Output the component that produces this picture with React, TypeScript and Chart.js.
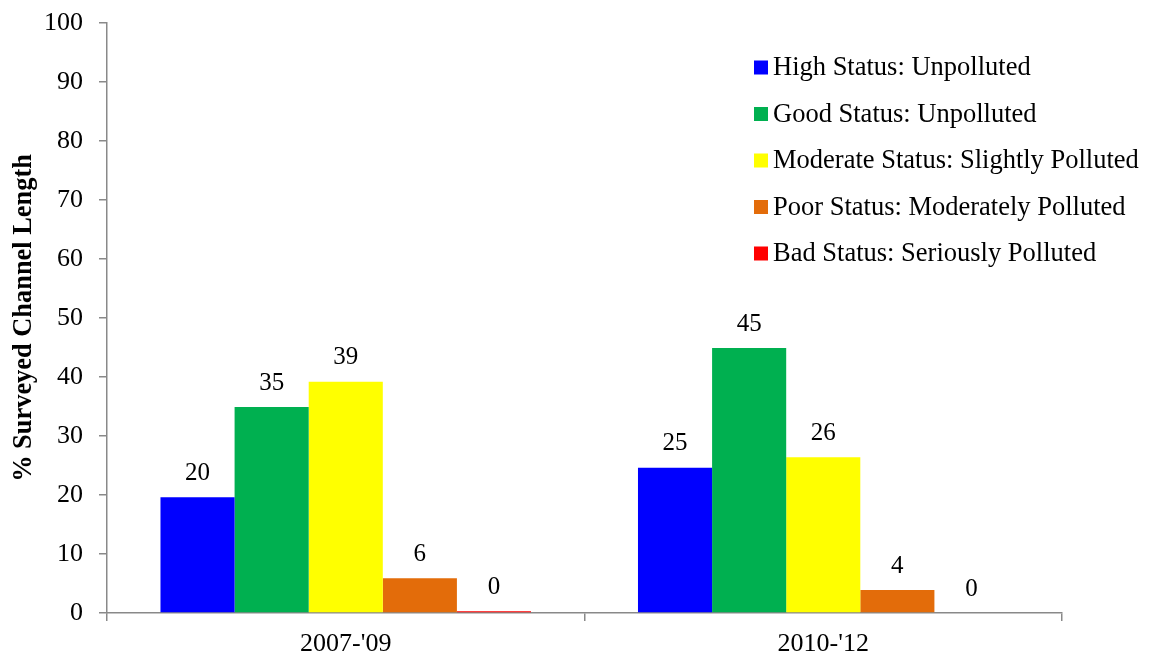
import React, { useEffect, useRef } from "react";
import { Chart, registerables } from "chart.js";

Chart.register(...registerables);

const categories = ["2007-'09", "2010-'12"];
const seriesNames = [
  "High Status: Unpolluted",
  "Good Status: Unpolluted",
  "Moderate Status: Slightly Polluted",
  "Poor Status: Moderately Polluted",
  "Bad Status: Seriously Polluted",
];
const highValues = [19.6, 24.6];
const goodValues = [34.9, 44.9];
const moderateValues = [39.2, 26.4];
const poorValues = [5.9, 3.9];
const badValues = [0.3, 0];
const seriesColors = ["#0000FF", "#00B050", "#FFFF00", "#E36C0A", "#FF0000"];
const yTicks = [0, 10, 20, 30, 40, 50, 60, 70, 80, 90, 100];

const FONT = '"Liberation Serif", "Times New Roman", serif';

const valueLabels = {
  id: "valueLabels",
  afterDatasetsDraw(chart: any) {
    const ctx = chart.ctx;
    ctx.save();
    ctx.font = `25px ${FONT}`;
    ctx.fillStyle = "#000";
    ctx.textAlign = "center";
    ctx.textBaseline = "middle";
    chart.data.datasets.forEach((ds: any, di: number) => {
      const meta = chart.getDatasetMeta(di);
      meta.data.forEach((el: any, i: number) => {
        const v = ds.data[i];
        ctx.fillText(String(Math.round(v)), el.x, el.y - 24);
      });
    });
    ctx.restore();
  },
};

const boxLegend = {
  id: "boxLegend",
  afterDraw(chart: any) {
    const ctx = chart.ctx;
    ctx.save();
    ctx.font = `26.5px ${FONT}`;
    ctx.textAlign = "left";
    ctx.textBaseline = "middle";
    chart.data.datasets.forEach((ds: any, i: number) => {
      const cy = 67.5 + i * 46.5;
      ctx.fillStyle = ds.backgroundColor;
      ctx.fillRect(754, cy - 7, 14, 14);
      ctx.fillStyle = "#000";
      ctx.fillText(ds.label, 773, cy + 1);
    });
    ctx.restore();
  },
};

export default function App() {
  const ref = useRef<HTMLCanvasElement>(null);
  useEffect(() => {
    const values = [highValues, goodValues, moderateValues, poorValues, badValues];
    const chart = new Chart(ref.current as HTMLCanvasElement, {
      type: "bar",
      data: {
        labels: categories,
        datasets: seriesNames.map((name, i) => ({
          label: name,
          data: values[i],
          backgroundColor: seriesColors[i],
          borderWidth: 0,
          barPercentage: 1,
          categoryPercentage: 0.776,
        })),
      },
      options: {
        responsive: false,
        animation: false,
        layout: { padding: { top: 23, right: 89, left: 0, bottom: 0 } },
        plugins: {
          legend: { display: false },
          tooltip: { enabled: false },
          title: { display: false },
        },
        scales: {
          x: {
            grid: {
              offset: true,
              drawOnChartArea: false,
              drawTicks: true,
              tickLength: 8,
              color: "#898989",
              lineWidth: 1.5,
            },
            border: { color: "#898989", width: 1.5 },
            ticks: {
              color: "#000",
              font: { family: FONT, size: 26 },
              padding: 8,
            },
            afterFit: (scale: any) => {
              scale.height = 46;
              scale.paddingLeft = 0;
              scale.paddingRight = 0;
            },
          },
          y: {
            min: 0,
            max: 100,
            afterBuildTicks: (scale: any) => {
              scale.ticks = yTicks.map((v) => ({ value: v }));
            },
            grid: {
              drawOnChartArea: false,
              drawTicks: true,
              tickLength: 8,
              color: "#898989",
              lineWidth: 1.5,
            },
            border: { color: "#898989", width: 1.5 },
            ticks: {
              color: "#000",
              font: { family: FONT, size: 26 },
              padding: 16,
            },
            title: {
              display: true,
              text: "% Surveyed Channel Length",
              color: "#000",
              font: { family: FONT, size: 26.4, weight: "bold" },
              padding: { top: 8, bottom: 0 },
            },
            afterFit: (scale: any) => {
              scale.width = 107;
              scale.paddingTop = 0;
              scale.paddingBottom = 0;
            },
          },
        },
      },
      plugins: [valueLabels, boxLegend],
    });
    return () => chart.destroy();
  }, []);
  return (
    <div style={{ position: "absolute", left: 0, top: 0, width: 1151, height: 659, background: "#fff" }}>
      <canvas ref={ref} width={1151} height={659} style={{ display: "block" }} />
    </div>
  );
}
